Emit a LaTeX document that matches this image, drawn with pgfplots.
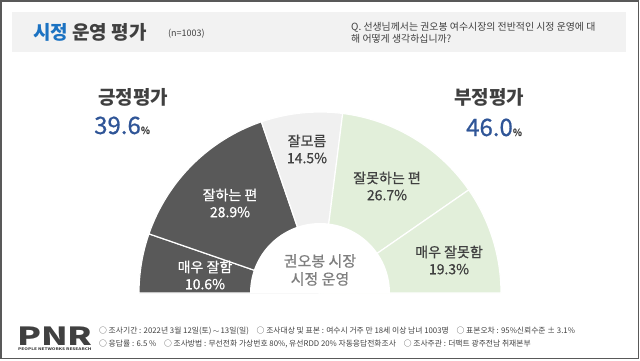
\documentclass[border=0pt]{standalone}
\usepackage{pgfplots}
\pgfplotsset{compat=1.18}
\usepackage{pgfplotstable}
\usepackage{fontspec}
\setmainfont{Noto Sans CJK KR}
\newfontfamily\krsemi[FakeBold=0.7]{Noto Sans CJK KR}
\definecolor{darkseg}{HTML}{595959}
\definecolor{unkseg}{HTML}{F0F0F0}
\definecolor{greenseg}{HTML}{E2EFDA}
\definecolor{framegray}{HTML}{595959}
\definecolor{bandgray}{HTML}{F2F2F2}
\definecolor{titleblue}{HTML}{1B72C2}
\definecolor{pctblue}{HTML}{2F5597}
\definecolor{txtdark}{HTML}{404040}
\definecolor{centergray}{HTML}{7F7F7F}
\newcommand\fs[1]{\fontsize{#1bp}{#1bp}\selectfont}

\pgfplotstableread{
val col
10.6 darkseg
28.9 darkseg
14.5 unkseg
26.7 greenseg
19.3 greenseg
}\donut

\begin{document}
\begin{tikzpicture}
\begin{axis}[scale only axis, width=640bp, height=360bp,
  xmin=0, xmax=640, ymin=0, ymax=360, y dir=reverse,
  hide axis, clip=false]
\path (axis cs:0,0) rectangle (axis cs:640,360);
\draw[framegray, line width=1.3bp] (axis cs:1,1) rectangle (axis cs:638.5,358.5);
\fill[bandgray] (axis cs:12,12) rectangle (axis cs:626,52);
% donut wedges from data
\def\cum{0}
\pgfplotsforeachungrouped \i in {0,...,4}{%
  \pgfplotstablegetelem{\i}{val}\of\donut \let\v\pgfplotsretval
  \pgfplotstablegetelem{\i}{col}\of\donut \let\c\pgfplotsretval
  \pgfmathsetmacro\a{180-1.8*\cum}%
  \pgfmathsetmacro\cum{\cum+\v}%
  \pgfmathsetmacro\b{180-1.8*\cum}%
  \edef\tmp{\noexpand\fill[fill=\c, draw=white, line width=1.2bp] (axis cs:320,293) -- ++(\a:181bp) arc[start angle=\a, end angle=\b, radius=181bp] -- cycle;}%
  \tmp
}
\fill[white] (axis cs:320,293) ++(180:70bp) arc[start angle=180, end angle=0, radius=70bp] -- cycle;
% title band
\node[anchor=west, inner sep=0pt, font=\fs{19}\bfseries, text=txtdark] at (axis cs:33,32) {{\color{titleblue}시정} 운영 평가};
\node[anchor=west, inner sep=0pt, font=\fs{9}, text=txtdark] at (axis cs:168,34) {(n=1003)};
\node[anchor=west, inner sep=0pt, font=\fs{9.9}, text=txtdark, align=left] at (axis cs:351,32.5) {Q. 선생님께서는 권오봉 여수시장의 전반적인 시정 운영에 대\\[1bp]해 어떻게 생각하십니까?};
% side summaries
\node[inner sep=0pt, font=\fs{19}\bfseries, text=txtdark] at (axis cs:133,97) {긍정평가};
\node[anchor=base west, inner sep=0pt, font=\krsemi\fs{24}, text=pctblue] at (axis cs:94,134) {39.6{\fs{10}\color{txtdark}\%}};
\node[inner sep=0pt, font=\fs{19}\bfseries, text=txtdark] at (axis cs:489,97) {부정평가};
\node[anchor=base west, inner sep=0pt, font=\krsemi\fs{24}, text=pctblue] at (axis cs:466,136) {46.0{\fs{10}\color{txtdark}\%}};
% segment labels
\node[align=center, inner sep=0pt, font=\krsemi\fs{14}, text=white] at (axis cs:205,275) {매우 잘함\\[3bp]10.6\%};
\node[align=center, inner sep=0pt, font=\krsemi\fs{14}, text=white] at (axis cs:230,203) {잘하는 편\\[3bp]28.9\%};
\node[align=center, inner sep=0pt, font=\krsemi\fs{14}, text=txtdark] at (axis cs:307,149) {잘모름\\[3bp]14.5\%};
\node[align=center, inner sep=0pt, font=\krsemi\fs{14}, text=txtdark] at (axis cs:387,186) {잘못하는 편\\[3bp]26.7\%};
\node[align=center, inner sep=0pt, font=\krsemi\fs{14}, text=txtdark] at (axis cs:449,260) {매우 잘못함\\[3bp]19.3\%};
\node[align=center, inner sep=0pt, font=\krsemi\fs{15}, text=centergray] at (axis cs:320,270) {권오봉 시장\\[3bp]시정 운영};
% footer
\node[anchor=base west, inner sep=0pt, text depth=0pt, font=\fs{25}\bfseries, text=txtdark] at (axis cs:17,345) {\scalebox{1.4}[1]{PNR}};
\node[anchor=west, inner sep=0pt, font=\fs{3.6}\bfseries, text=txtdark] at (axis cs:18,349.5) {\scalebox{1.3}[1]{PEOPLE NETWORKS RESEARCH}};
\node[anchor=west, inner sep=0pt, font=\fs{7.8}, text=txtdark] at (axis cs:99,331) {○ 조사기간 : 2022년 3월 12일(토)\,$\sim$\,13일(일)\quad ○ 조사대상 및 표본 : 여수시 거주 만 18세 이상 남녀 1003명\quad ○ 표본오차 : 95\%신뢰수준 ± 3.1\%};
\node[anchor=west, inner sep=0pt, font=\fs{7.8}, text=txtdark] at (axis cs:99,344) {○ 응답률 : 6.5 \%\quad ○ 조사방법 : 무선전화 가상번호 80\%, 유선RDD 20\% 자동응답전화조사\quad ○ 조사주관 : 더팩트 광주전남 취재본부};
\end{axis}
\end{tikzpicture}
\end{document}
